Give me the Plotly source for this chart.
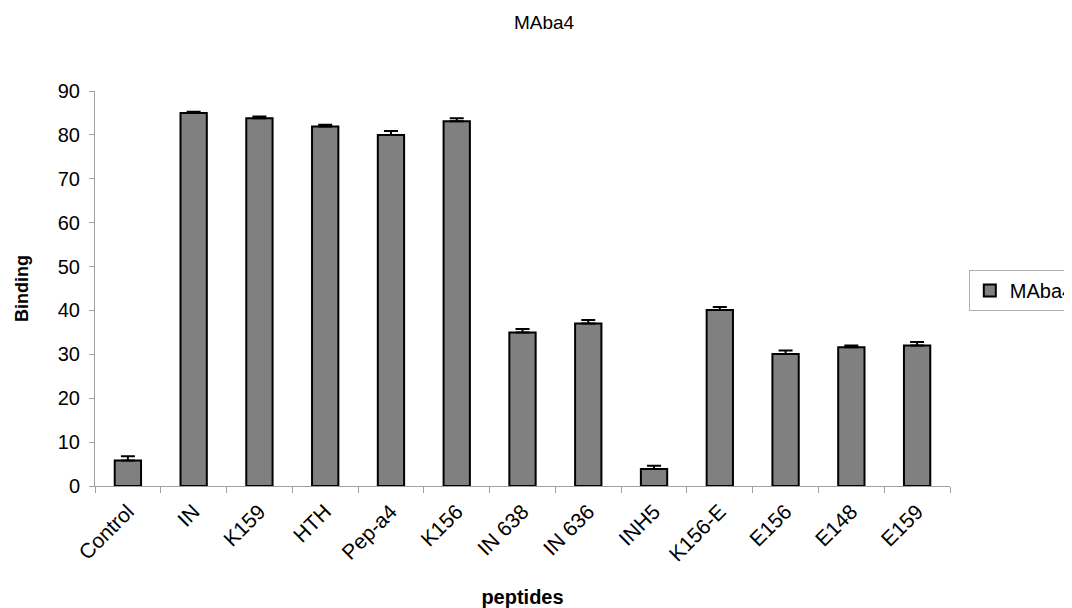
import plotly.graph_objects as go

categories = ["Control", "IN", "K159", "HTH", "Pep-a4", "K156", "IN 638", "IN 636",
              "INH5", "K156-E", "E156", "E148", "E159"]
binding = [5.8, 85.0, 83.8, 81.9, 80.0, 83.1, 35.0, 37.0, 3.9, 40.1, 30.1, 31.6, 32.0]
errors = [1.0, 0.3, 0.4, 0.4, 0.9, 0.7, 0.8, 0.8, 0.7, 0.7, 0.8, 0.4, 0.8]
series_name = "MAba4"

font_family = "Liberation Sans, Arial, sans-serif"

fig = go.Figure()
fig.add_trace(go.Bar(
    x=categories, y=binding, name=series_name,
    marker=dict(color="#808080", line=dict(color="#000000", width=2)),
    error_y=dict(type="data", array=errors, arrayminus=[0] * len(errors),
                 symmetric=False, color="#000000", thickness=2, width=7),
    showlegend=True,
))

fig.update_layout(
    width=1072, height=608,
    paper_bgcolor="white", plot_bgcolor="white",
    margin=dict(l=87, r=130, t=83, b=130, autoexpand=False),
    font=dict(family=font_family, color="#000000"),
    bargap=0.6,
    title=dict(text="MAba4", x=0.5, xanchor="center", y=0.977, yanchor="middle",
               font=dict(size=19, family=font_family)),
    showlegend=True,
    legend=dict(x=1.022, xanchor="left", y=0.547, yanchor="top",
                bordercolor="#b0b0b0", borderwidth=1, bgcolor="white",
                font=dict(size=20, family=font_family),
                itemwidth=30, tracegroupgap=0,
                itemsizing="constant"),
    xaxis=dict(
        type="category", tickangle=-45, tickson="boundaries",
        ticks="outside", ticklen=6, tickcolor="#a0a0a0",
        showline=True, linecolor="#a0a0a0", linewidth=1,
        showgrid=False, zeroline=False,
        ticklabelstandoff=4,
        tickfont=dict(size=21, family=font_family),
        title=dict(text="<b>peptides</b>", font=dict(size=20, family=font_family), standoff=25),
        automargin=False,
    ),
    yaxis=dict(
        range=[0, 90], dtick=10, tick0=0,
        ticks="outside", ticklen=5, tickcolor="#a0a0a0",
        showline=True, linecolor="#a0a0a0", linewidth=1,
        showgrid=False, zeroline=False,
        ticklabelstandoff=5,
        tickfont=dict(size=20, family=font_family),
        title=dict(text="<b>Binding</b>", font=dict(size=18, family=font_family), standoff=24),
        automargin=False,
    ),
)

fig.write_html("out.html")
